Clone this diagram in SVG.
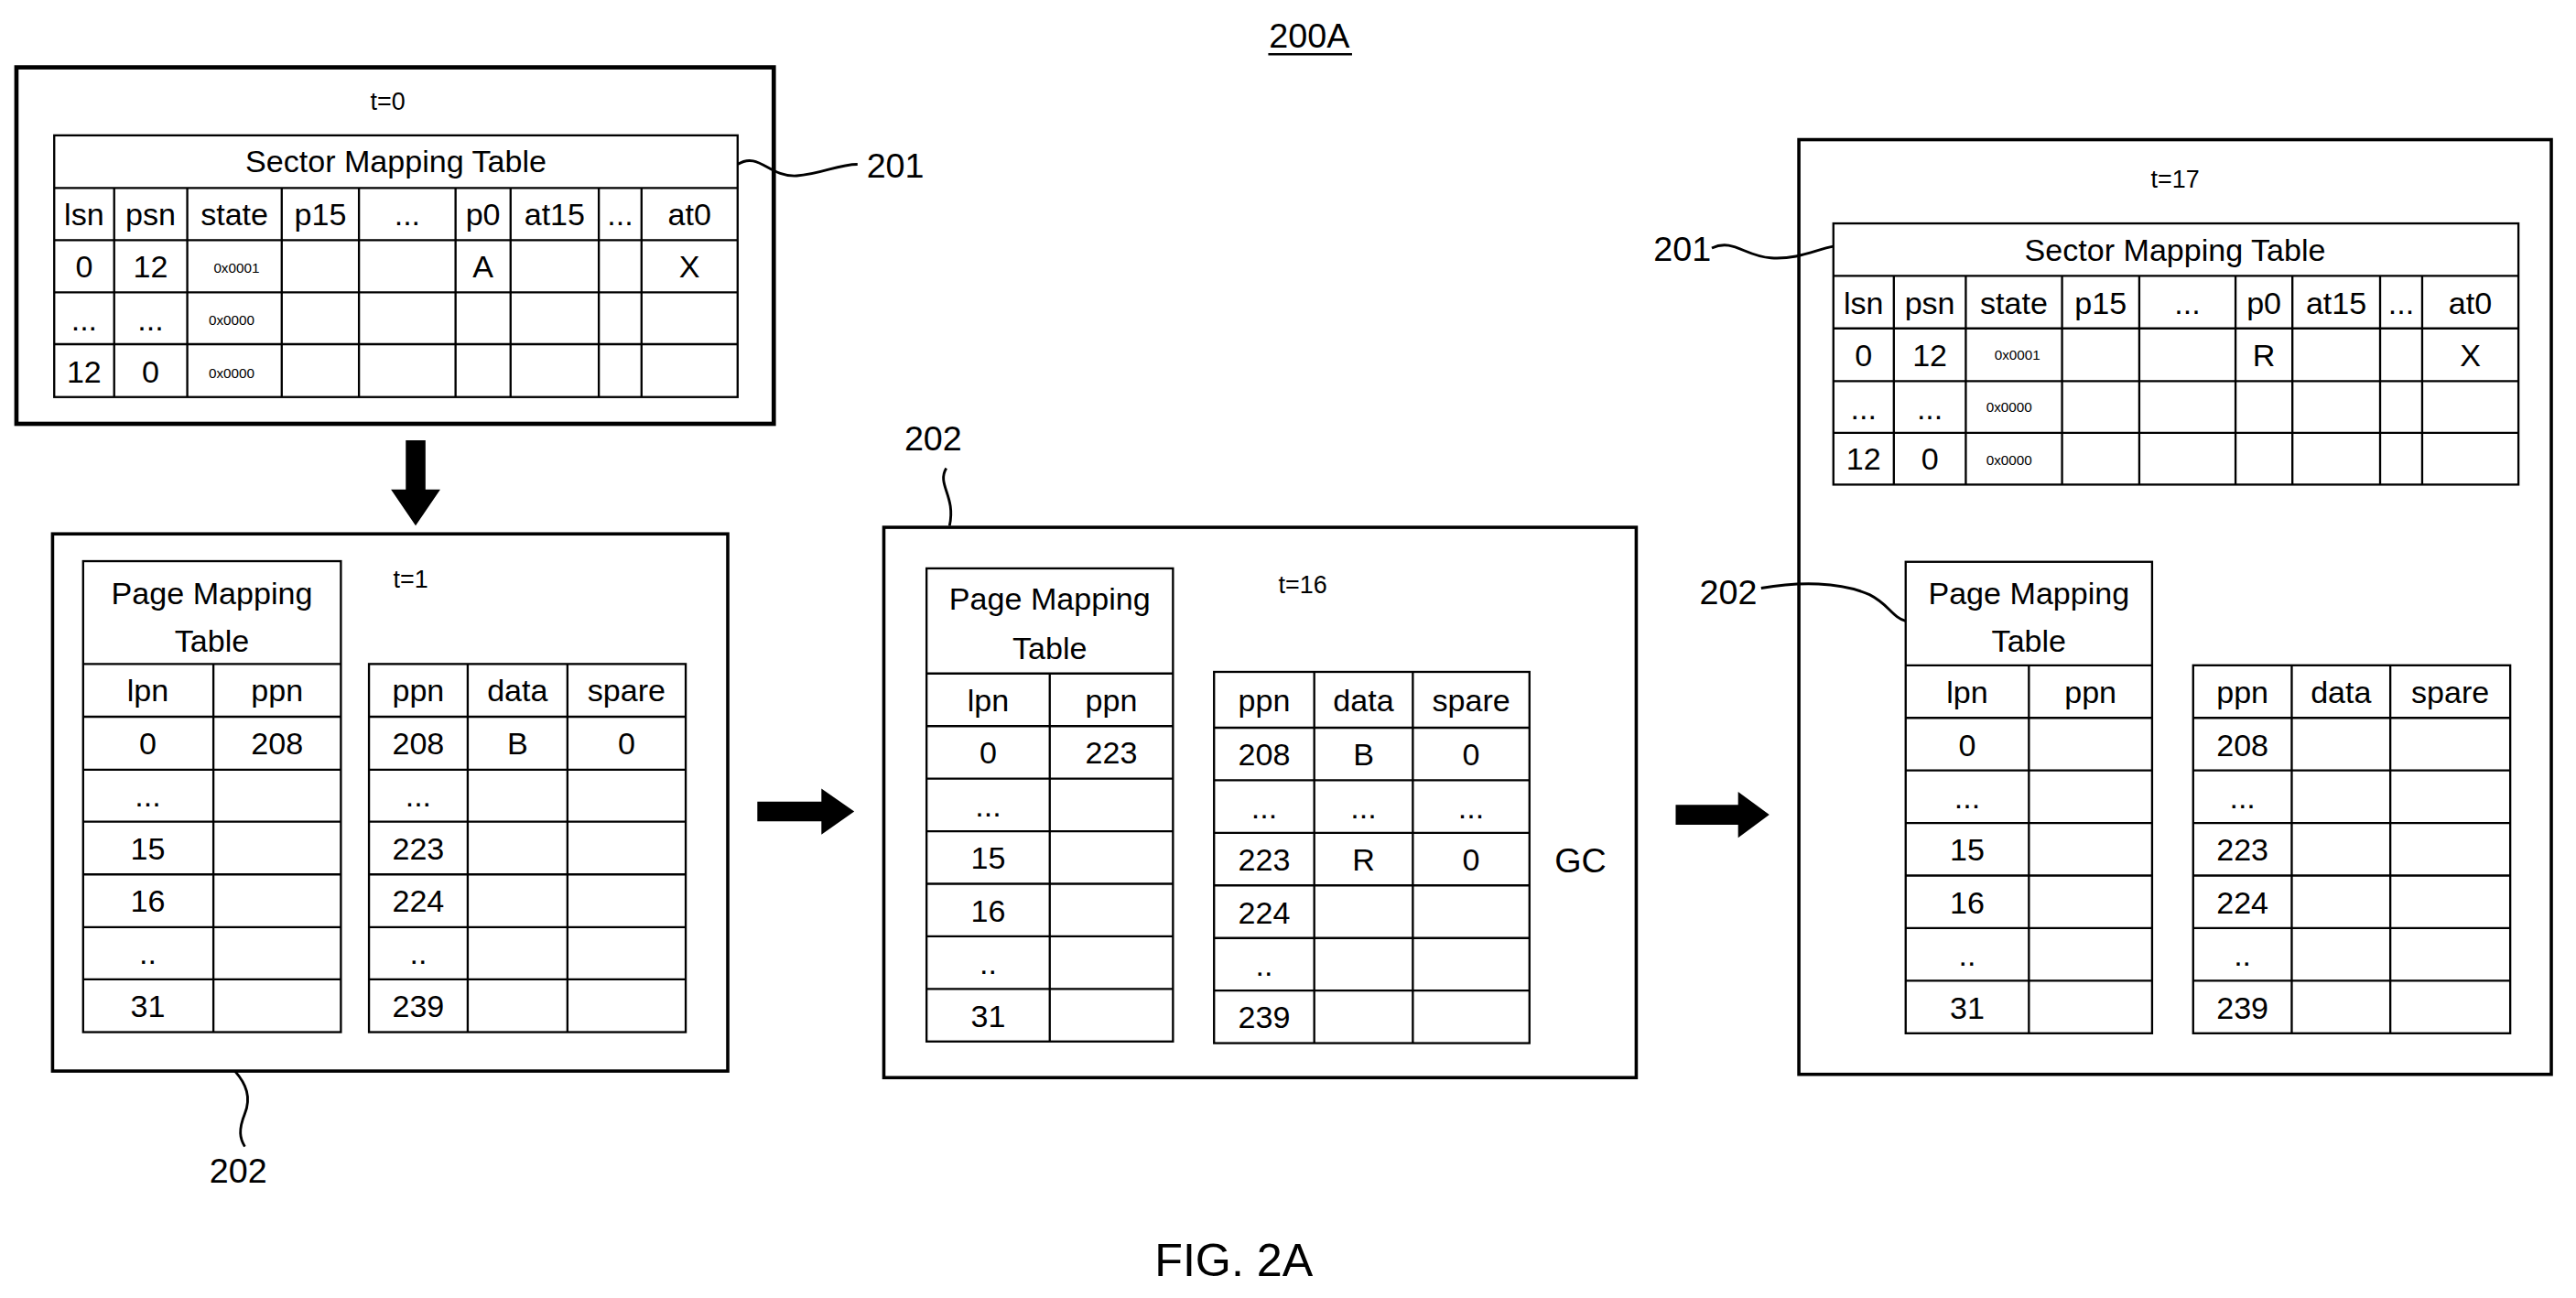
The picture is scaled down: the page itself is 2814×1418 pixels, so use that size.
<svg xmlns="http://www.w3.org/2000/svg" width="2814" height="1418" viewBox="0 0 2814 1418">
<style>
.box{fill:none;stroke:#000;stroke-width:2}
.tb{fill:none;stroke:#000;stroke-width:1.3}
.ln{stroke:#000;stroke-width:1.3}
.t{font-family:"Liberation Sans",Arial,sans-serif;font-size:19px;text-anchor:middle;fill:#000}
.s{font-family:"Liberation Sans",Arial,sans-serif;font-size:8.5px;text-anchor:middle;fill:#000}
.lb{font-family:"Liberation Sans",Arial,sans-serif;font-size:21px;text-anchor:middle;fill:#000}
.sq{fill:none;stroke:#000;stroke-width:1.6}
.ar{fill:#000}
</style>
<rect width="2814" height="1418" fill="#fff"/>
<g transform="scale(1.7946)">
<text class="lb" x="797" y="29">200A</text>
<line class="ln" x1="772" y1="33" x2="823" y2="33"/>
<text class="lb" x="751" y="777" style="font-size:28px">FIG. 2A</text>

<g id="box-t0">
<rect class="box" x="10" y="41" width="461" height="217" style="stroke-width:2.6"/>
<text class="t" x="236" y="67" style="font-size:15px">t=0</text>
<g id="smt1">
<rect class="tb" x="33" y="82.4" width="416" height="159.3"/>
<path class="ln" d="M33 114.4H449M33 146.2H449M33 178H449M33 209.5H449M69.5 114.4V241.7M114 114.4V241.7M171.5 114.4V241.7M218.5 114.4V241.7M277.3 114.4V241.7M310.8 114.4V241.7M364.5 114.4V241.7M390.5 114.4V241.7"/>
<text class="t" x="241" y="105">Sector Mapping Table</text>
<text class="t" x="51.2" y="137">lsn</text><text class="t" x="91.7" y="137">psn</text><text class="t" x="142.7" y="137">state</text><text class="t" x="195" y="137">p15</text><text class="t" x="247.9" y="137">...</text><text class="t" x="294" y="137">p0</text><text class="t" x="337.6" y="137">at15</text><text class="t" x="377.5" y="137">...</text><text class="t" x="419.7" y="137">at0</text>
<text class="t" x="51.2" y="169">0</text><text class="t" x="91.7" y="169">12</text><text class="s" x="144" y="166">0x0001</text><text class="t" x="294" y="169">A</text><text class="t" x="419.7" y="169">X</text>
<text class="t" x="51.2" y="201">...</text><text class="t" x="91.7" y="201">...</text><text class="s" x="141" y="198">0x0000</text>
<text class="t" x="51.2" y="233">12</text><text class="t" x="91.7" y="233">0</text><text class="s" x="141" y="230">0x0000</text>
</g>
</g>
<g id="label-201a">
<path class="sq" d="M449 100C462 92 468 108 485 107C500 106 510 100 522 100"/>
<text class="lb" x="545" y="108">201</text>
</g>

<g id="box-t1">
<rect class="box" x="32" y="325" width="411" height="327"/>
<text class="t" x="250" y="358" style="font-size:15px">t=1</text>
<g id="pmt1">
<rect class="tb" x="50.6" y="341.6" width="156.9" height="286.7"/>
<path class="ln" d="M50.6 404.2H207.5M50.6 436.3H207.5M50.6 468.6H207.5M50.6 500.2H207.5M50.6 532.3H207.5M50.6 564.4H207.5M50.6 596.2H207.5M129.9 404.2V628.3"/>
<text class="t" x="129" y="368">Page Mapping</text><text class="t" x="129" y="397">Table</text>
<text class="t" x="90" y="427">lpn</text><text class="t" x="168.7" y="427">ppn</text>
<text class="t" x="90" y="459">0</text><text class="t" x="168.7" y="459">208</text>
<text class="t" x="90" y="491">...</text><text class="t" x="90" y="523">15</text><text class="t" x="90" y="555">16</text><text class="t" x="90" y="587">..</text><text class="t" x="90" y="619">31</text>
</g>
<g id="data1">
<rect class="tb" x="224.6" y="404.2" width="192.8" height="224.1"/>
<path class="ln" d="M224.6 436.3H417.4M224.6 468.6H417.4M224.6 500.2H417.4M224.6 532.3H417.4M224.6 564.4H417.4M224.6 596.2H417.4M284.7 404.2V628.3M345.4 404.2V628.3"/>
<text class="t" x="254.6" y="427">ppn</text><text class="t" x="315" y="427">data</text><text class="t" x="381.4" y="427">spare</text>
<text class="t" x="254.6" y="459">208</text><text class="t" x="315" y="459">B</text><text class="t" x="381.4" y="459">0</text>
<text class="t" x="254.6" y="491">...</text><text class="t" x="254.6" y="523">223</text><text class="t" x="254.6" y="555">224</text><text class="t" x="254.6" y="587">..</text><text class="t" x="254.6" y="619">239</text>
</g>
</g>
<g id="label-202a">
<path class="sq" d="M143 652C150 660 153 668 149 678C145 688 146 693 149 698"/>
<text class="lb" x="145" y="720">202</text>
</g>

<g id="box-t16">
<rect class="box" x="538" y="321" width="458" height="335"/>
<text class="t" x="793" y="361" style="font-size:15px">t=16</text>
<g id="pmt2">
<rect class="tb" x="564" y="346" width="150" height="288"/>
<path class="ln" d="M564 410H714M564 442H714M564 474H714M564 506H714M564 538H714M564 570H714M564 602H714M639 410V634"/>
<text class="t" x="639" y="371">Page Mapping</text><text class="t" x="639" y="401">Table</text>
<text class="t" x="601.5" y="433">lpn</text><text class="t" x="676.5" y="433">ppn</text>
<text class="t" x="601.5" y="465">0</text><text class="t" x="676.5" y="465">223</text>
<text class="t" x="601.5" y="497">...</text><text class="t" x="601.5" y="529">15</text><text class="t" x="601.5" y="561">16</text><text class="t" x="601.5" y="593">..</text><text class="t" x="601.5" y="625">31</text>
</g>
<g id="data2">
<rect class="tb" x="739" y="409" width="192" height="226"/>
<path class="ln" d="M739 443H931M739 475H931M739 507H931M739 539H931M739 571H931M739 603H931M800 409V635M860 409V635"/>
<text class="t" x="769.5" y="433">ppn</text><text class="t" x="830" y="433">data</text><text class="t" x="895.5" y="433">spare</text>
<text class="t" x="769.5" y="466">208</text><text class="t" x="830" y="466">B</text><text class="t" x="895.5" y="466">0</text>
<text class="t" x="769.5" y="498">...</text><text class="t" x="830" y="498">...</text><text class="t" x="895.5" y="498">...</text>
<text class="t" x="769.5" y="530">223</text><text class="t" x="830" y="530">R</text><text class="t" x="895.5" y="530">0</text>
<text class="t" x="769.5" y="562">224</text><text class="t" x="769.5" y="594">..</text><text class="t" x="769.5" y="626">239</text>
</g>
<text class="lb" x="962" y="531">GC</text>
</g>
<g id="label-202b">
<path class="sq" d="M576 285C570 295 582 302 578 320"/>
<text class="lb" x="568" y="274">202</text>
</g>

<g id="box-t17">
<rect class="box" x="1095" y="85" width="458" height="569"/>
<text class="t" x="1324" y="114" style="font-size:15px">t=17</text>
<g id="smt2">
<rect class="tb" x="1116" y="136" width="417" height="159"/>
<path class="ln" d="M1116 167.9H1533M1116 199.9H1533M1116 232H1533M1116 263.5H1533M1152.8 167.9V295M1196.6 167.9V295M1255.2 167.9V295M1302.2 167.9V295M1360.8 167.9V295M1395.4 167.9V295M1448.8 167.9V295M1474.4 167.9V295"/>
<text class="t" x="1324" y="159">Sector Mapping Table</text>
<text class="t" x="1134.4" y="191">lsn</text><text class="t" x="1174.7" y="191">psn</text><text class="t" x="1225.9" y="191">state</text><text class="t" x="1278.7" y="191">p15</text><text class="t" x="1331.5" y="191">...</text><text class="t" x="1378.1" y="191">p0</text><text class="t" x="1422.1" y="191">at15</text><text class="t" x="1461.6" y="191">...</text><text class="t" x="1503.7" y="191">at0</text>
<text class="t" x="1134.4" y="223">0</text><text class="t" x="1174.7" y="223">12</text><text class="s" x="1228" y="219">0x0001</text><text class="t" x="1378.1" y="223">R</text><text class="t" x="1503.7" y="223">X</text>
<text class="t" x="1134.4" y="255">...</text><text class="t" x="1174.7" y="255">...</text><text class="s" x="1223" y="251">0x0000</text>
<text class="t" x="1134.4" y="286">12</text><text class="t" x="1174.7" y="286">0</text><text class="s" x="1223" y="283">0x0000</text>
</g>
<g id="pmt3">
<rect class="tb" x="1160" y="342" width="150" height="287"/>
<path class="ln" d="M1160 405H1310M1160 437H1310M1160 469H1310M1160 501H1310M1160 533H1310M1160 565H1310M1160 597H1310M1235 405V629"/>
<text class="t" x="1235" y="368">Page Mapping</text><text class="t" x="1235" y="397">Table</text>
<text class="t" x="1197.5" y="428">lpn</text><text class="t" x="1272.5" y="428">ppn</text>
<text class="t" x="1197.5" y="460">0</text><text class="t" x="1197.5" y="492">...</text><text class="t" x="1197.5" y="524">15</text><text class="t" x="1197.5" y="556">16</text><text class="t" x="1197.5" y="588">..</text><text class="t" x="1197.5" y="620">31</text>
</g>
<g id="data3">
<rect class="tb" x="1335" y="405" width="193" height="224"/>
<path class="ln" d="M1335 437H1528M1335 469H1528M1335 501H1528M1335 533H1528M1335 565H1528M1335 597H1528M1395 405V629M1455 405V629"/>
<text class="t" x="1365" y="428">ppn</text><text class="t" x="1425" y="428">data</text><text class="t" x="1491.5" y="428">spare</text>
<text class="t" x="1365" y="460">208</text><text class="t" x="1365" y="492">...</text><text class="t" x="1365" y="524">223</text><text class="t" x="1365" y="556">224</text><text class="t" x="1365" y="588">..</text><text class="t" x="1365" y="620">239</text>
</g>
</g>
<g id="label-201b">
<path class="sq" d="M1042 151C1055 145 1062 156 1078 157C1095 158 1105 152 1116 150"/>
<text class="lb" x="1024" y="159">201</text>
</g>
<g id="label-202c">
<path class="sq" d="M1072 358C1095 354 1120 354 1138 362C1150 368 1152 376 1160 378"/>
<text class="lb" x="1052" y="368">202</text>
</g>

<g id="connectors">
<polygon class="ar" points="247,268 259,268 259,298 268,298 253,320 238,298 247,298"/>
<polygon class="ar" points="461,488 500,488 500,480 520,494 500,508 500,500 461,500"/>
<polygon class="ar" points="1020,490 1058,490 1058,482 1077,496 1058,510 1058,502 1020,502"/>
</g>
</g>
</svg>
